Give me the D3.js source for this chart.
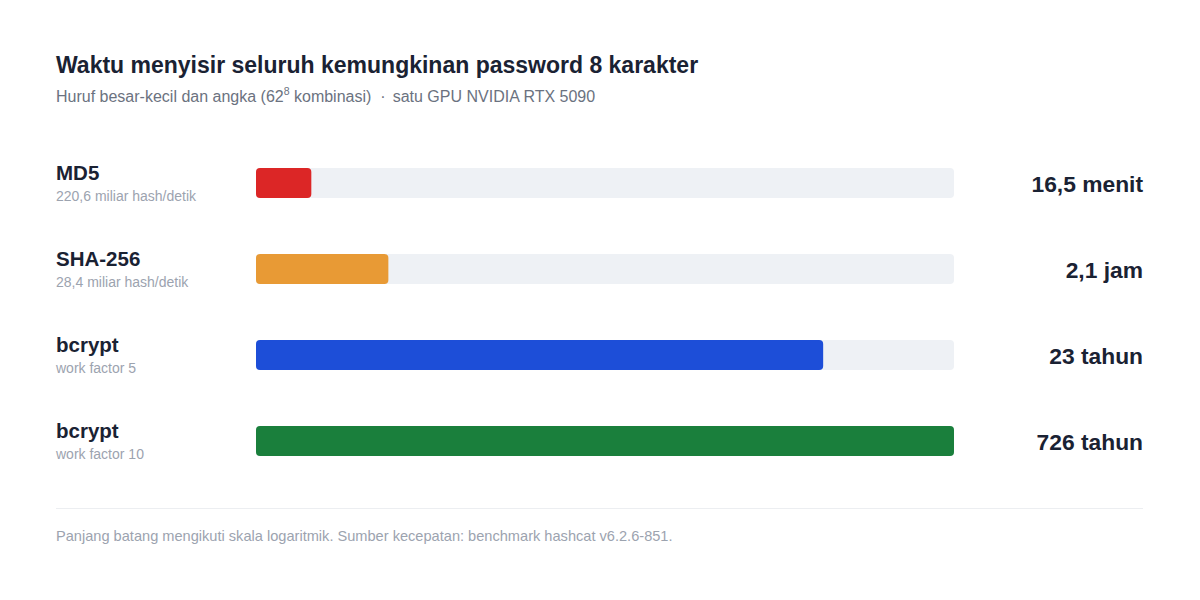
<!DOCTYPE html>
<html><head><meta charset="utf-8">
<script src="https://cdn.jsdelivr.net/npm/d3@7"></script>
<style>
html,body{margin:0;padding:0;background:#fff;}
svg{display:block;font-family:"Liberation Sans",Arial,Helvetica,sans-serif;}
</style></head>
<body><svg id="chart" width="1200" height="600"></svg>
<script>
const algorithms = ["MD5", "SHA-256", "bcrypt", "bcrypt"];
const details = ["220,6 miliar hash/detik", "28,4 miliar hash/detik", "work factor 5", "work factor 10"];
const seconds = [990, 7560, 725800000, 22910000000];
const valueLabels = ["16,5 menit", "2,1 jam", "23 tahun", "726 tahun"];
const colors = ["#dc2626", "#e89a35", "#1d4ed8", "#1a7f3c"];

const svg = d3.select("#chart");
const left = 56, right = 1143, trackX0 = 256, trackX1 = 954;

svg.append("text").attr("x", left).attr("y", 73)
  .attr("font-size", 23).attr("font-weight", 700).attr("fill", "#1a2233")
  .text("Waktu menyisir seluruh kemungkinan password 8 karakter");

const sub = svg.append("text").attr("x", left).attr("y", 102)
  .attr("font-size", 16).attr("fill", "#6b7280");
sub.append("tspan").text("Huruf besar-kecil dan angka (62");
sub.append("tspan").attr("font-size", 10.5).attr("dy", -7).text("8");
sub.append("tspan").attr("dy", 7).text(" kombinasi)");
sub.append("tspan").attr("dx", 9).text("\u00b7");
sub.append("tspan").attr("dx", 7).text("satu GPU NVIDIA RTX 5090");

const y = d3.scaleBand().domain(d3.range(algorithms.length)).range([140, 484]).padding(0);
const x = d3.scaleLog().domain([230, d3.max(seconds)]).range([trackX0, trackX1]);
const barH = 30;

const rows = svg.selectAll("g.row").data(seconds).join("g").attr("class", "row")
  .attr("transform", (d, i) => `translate(0,${y(i) + y.bandwidth() / 2})`);

rows.append("rect").attr("x", trackX0).attr("y", -barH / 2)
  .attr("width", trackX1 - trackX0).attr("height", barH).attr("rx", 4).attr("fill", "#eef1f5");
rows.append("rect").attr("x", trackX0).attr("y", -barH / 2)
  .attr("width", d => x(d) - trackX0).attr("height", barH).attr("rx", 4)
  .attr("fill", (d, i) => colors[i]);

rows.append("text").attr("x", left).attr("y", -3)
  .attr("font-size", 20.5).attr("font-weight", 700).attr("fill", "#1a2233")
  .text((d, i) => algorithms[i]);
rows.append("text").attr("x", left).attr("y", 18)
  .attr("font-size", 14).attr("fill", "#9ca3af")
  .text((d, i) => details[i]);
rows.append("text").attr("x", right).attr("y", 9).attr("text-anchor", "end")
  .attr("font-size", 22.8).attr("font-weight", 700).attr("fill", "#1a2233")
  .text((d, i) => valueLabels[i]);

svg.append("line").attr("x1", left).attr("x2", right).attr("y1", 508.5).attr("y2", 508.5)
  .attr("stroke", "#eceef1").attr("stroke-width", 1);
svg.append("text").attr("x", left).attr("y", 541)
  .attr("font-size", 14.6).attr("fill", "#9ca3af")
  .text("Panjang batang mengikuti skala logaritmik. Sumber kecepatan: benchmark hashcat v6.2.6-851.");
</script></body></html>
